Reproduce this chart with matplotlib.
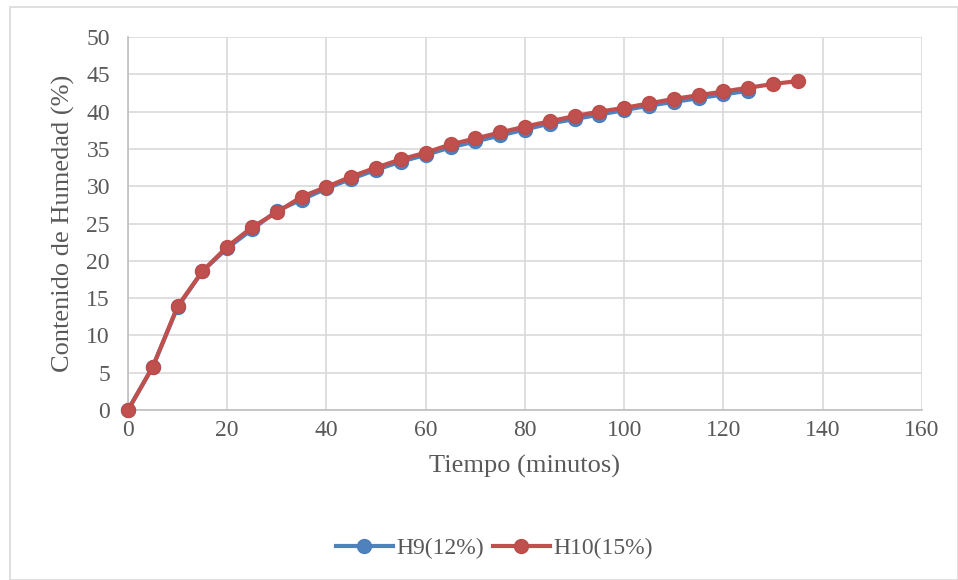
import matplotlib.pyplot as plt
from matplotlib.patches import Rectangle

tiempo_h9 = [0, 5, 10, 15, 20, 25, 30, 35, 40, 45, 50, 55, 60, 65, 70, 75, 80,
             85, 90, 95, 100, 105, 110, 115, 120, 125]
h9 = [0, 5.8, 13.8, 18.6, 21.7, 24.2, 26.7, 28.2, 29.7, 31.0, 32.2, 33.3, 34.2,
      35.2, 36.0, 36.8, 37.6, 38.4, 39.0, 39.6, 40.2, 40.8, 41.3, 41.8, 42.3, 42.8]

tiempo_h10 = [0, 5, 10, 15, 20, 25, 30, 35, 40, 45, 50, 55, 60, 65, 70, 75, 80,
              85, 90, 95, 100, 105, 110, 115, 120, 125, 130, 135]
h10 = [0, 5.8, 13.9, 18.6, 21.9, 24.5, 26.5, 28.6, 29.9, 31.3, 32.5, 33.6, 34.5,
       35.6, 36.4, 37.2, 38.0, 38.7, 39.4, 40.0, 40.5, 41.1, 41.7, 42.2, 42.7,
       43.2, 43.7, 44.1]

plt.rcParams['font.family'] = ['Liberation Serif', 'DejaVu Serif']

fig = plt.figure(figsize=(9.58, 5.8), dpi=100)
ax = fig.add_axes([0.1336, 0.2931, 0.8288, 0.6431])

ax.plot(tiempo_h9, h9, color='#4F81BD', lw=3, marker='o', ms=10,
        mfc='#4F81BD', mec='#4A7EBB', label='H9(12%)', zorder=3, clip_on=False)
ax.plot(tiempo_h10, h10, color='#C0504D', lw=3, marker='o', ms=10,
        mfc='#C0504D', mec='#BE4B48', label='H10(15%)', zorder=4, clip_on=False)

ax.set_xlim(0, 160)
ax.set_ylim(0, 50)
ax.set_xticks(range(0, 161, 20))
ax.set_yticks(range(0, 51, 5))
ax.grid(True, color='#D9D9D9', lw=1.2)
ax.set_axisbelow(True)
for s in ['top', 'right']:
    ax.spines[s].set_visible(False)
for s in ['left', 'bottom']:
    ax.spines[s].set_color('#BFBFBF')
    ax.spines[s].set_linewidth(1.2)
ax.tick_params(length=0, labelsize=17, colors='#595959')
ax.tick_params(axis='y', pad=13)
ax.tick_params(axis='x', pad=7)

ax.set_xlabel('Tiempo (minutos)', fontsize=19, color='#595959', labelpad=10)
ax.set_ylabel('Contenido de Humedad (%)', fontsize=19, color='#595959', labelpad=8)

fig.legend(loc='center', bbox_to_anchor=(0.516, 0.055), ncol=2, frameon=False,
           fontsize=17, labelcolor='#595959', handlelength=2.4,
           columnspacing=0.4, handletextpad=0.15)

fig.patches.append(Rectangle((10 / 958, 0), 1 - 10 / 958, 1 - 7 / 580,
                             transform=fig.transFigure, fill=False,
                             ec='#D9D9D9', lw=1.2))

fig.savefig('out.png', dpi=100)
